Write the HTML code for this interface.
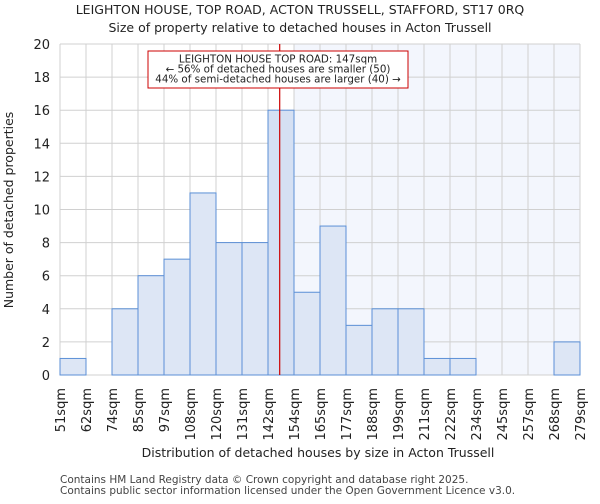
<!DOCTYPE html>
<html><head><meta charset="utf-8"><style>
body{margin:0;background:#fff;font-family:"DejaVu Sans","Liberation Sans",sans-serif;}
svg text{font-family:"DejaVu Sans","Liberation Sans",sans-serif;fill:#222;}
</style></head><body>
<svg id="chart" width="600" height="500" xmlns="http://www.w3.org/2000/svg">
<text x="300" y="14" text-anchor="middle" font-size="12.5">LEIGHTON HOUSE, TOP ROAD, ACTON TRUSSELL, STAFFORD, ST17 0RQ</text>
<text x="300" y="32" text-anchor="middle" font-size="12.5">Size of property relative to detached houses in Acton Trussell</text>
<g id="plot"></g>
<text x="318" y="457" text-anchor="middle" font-size="12.5">Distribution of detached houses by size in Acton Trussell</text>
<text transform="translate(13,210) rotate(-90)" text-anchor="middle" font-size="12.5">Number of detached properties</text>
<text x="60" y="483" font-size="10.5" style="fill:#444">Contains HM Land Registry data © Crown copyright and database right 2025.</text>
<text x="60" y="494" font-size="10.5" style="fill:#444">Contains public sector information licensed under the Open Government Licence v3.0.</text>
</svg>
<script>
const tickLabels=["51sqm","62sqm","74sqm","85sqm","97sqm","108sqm","120sqm","131sqm","142sqm","154sqm","165sqm","177sqm","188sqm","199sqm","211sqm","222sqm","234sqm","245sqm","257sqm","268sqm","279sqm"];
const counts=[1,0,4,6,7,11,8,8,16,5,9,3,4,4,1,1,0,0,0,2];
const yTicks=[0,2,4,6,8,10,12,14,16,18,20];
const subjectBin=8.45;
const highlightBin=9;
const NS="http://www.w3.org/2000/svg";
const L=60,R=580,T=44,B=375,yMax=20;
const bw=(R-L)/counts.length;
const xs=i=>L+i*bw;
const ys=v=>B-(v/yMax)*(B-T);
const g=document.getElementById('plot');
function mk(t,a){const e=document.createElementNS(NS,t);for(const k in a)e.setAttribute(k,a[k]);g.appendChild(e);return e;}
let sh=mk('rect',{x:xs(highlightBin),y:T,width:R-xs(highlightBin),height:B-T,fill:'#f3f6fd'});


yTicks.forEach(v=>{
 let l=mk('line',{x1:L,x2:R,y1:ys(v),y2:ys(v),stroke:'#d0d0d0','stroke-width':1});
 
 
 let t=mk('text',{x:L-10,y:ys(v)+5,'text-anchor':'end','font-size':13});
 t.textContent=v;
 
 
});
tickLabels.forEach((s,i)=>{
 let l=mk('line',{x1:xs(i),x2:xs(i),y1:T,y2:B,stroke:'#d0d0d0','stroke-width':1});
 
 
 let t=mk('text',{transform:`translate(${xs(i)+5},388) rotate(-90)`,'text-anchor':'end','font-size':13});
 t.textContent=s;
 
 
});
counts.forEach((c,i)=>{
 if(c<=0)return;
 let r=mk('rect',{x:xs(i),y:ys(c),width:bw,height:B-ys(c),fill:i===8?'#d5e0f3':'#dde6f5',stroke:'#5b8fd6','stroke-width':1});
 
 
});
const lx=xs(subjectBin);
let ml=mk('line',{x1:lx,x2:lx,y1:T,y2:B,stroke:'#cc0000','stroke-width':1.2});


let box=mk('rect',{x:148,y:51,width:260,height:37,fill:'#fff',stroke:'#cc0000','stroke-width':1});


["LEIGHTON HOUSE TOP ROAD: 147sqm","← 56% of detached houses are smaller (50)","44% of semi-detached houses are larger (40) →"].forEach((s,i)=>{
 let t=mk('text',{x:278,y:62.5+i*10,'text-anchor':'middle','font-size':10.3});
 t.textContent=s;
 
 
});
</script>
</body></html>
